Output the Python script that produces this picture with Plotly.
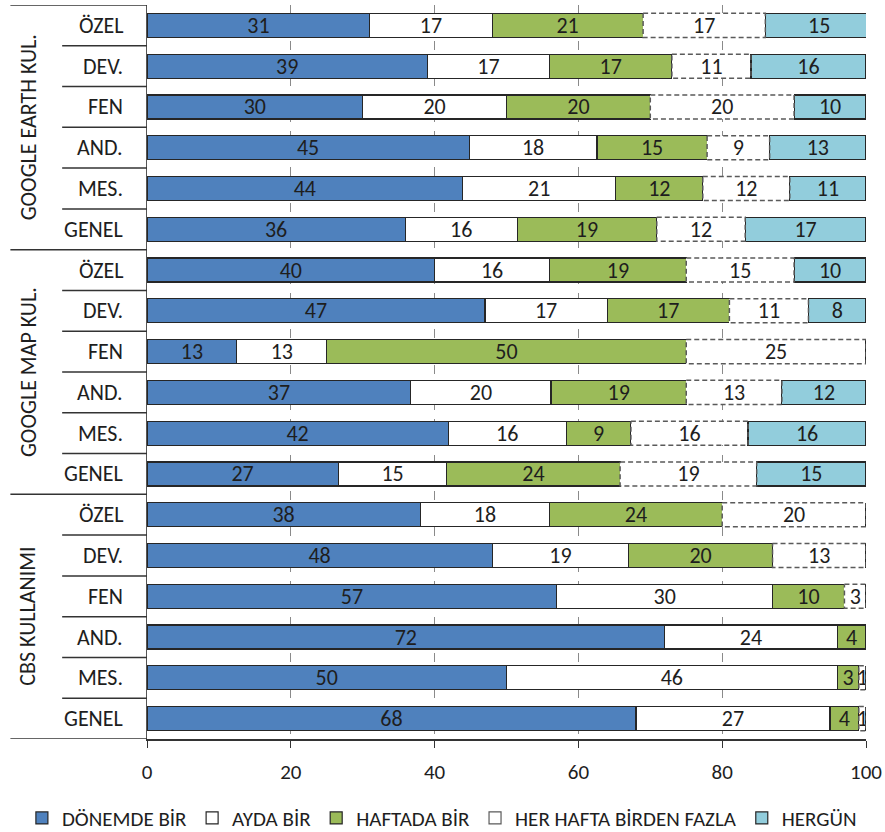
import plotly.graph_objects as go

groups = ["GOOGLE EARTH KUL.", "GOOGLE MAP KUL.", "CBS KULLANIMI"]
subs = ["ÖZEL", "DEV.", "FEN", "AND.", "MES.", "GENEL"]
series_names = ["DÖNEMDE BİR", "AYDA BİR", "HAFTADA BİR", "HER HAFTA BİRDEN FAZLA", "HERGÜN"]

donemde_bir = [31, 39, 30, 44.8, 43.9, 35.9, 40, 47, 12.5, 36.7, 41.9, 26.6, 38, 48, 57, 72, 50, 68]
ayda_bir = [17, 17, 20, 17.8, 21.3, 15.6, 16, 17, 12.5, 19.5, 16.4, 15.1, 18, 19, 30, 24, 46, 27]
haftada_bir = [21, 17, 20, 15.3, 12.1, 19.4, 19, 17, 50, 18.8, 9.0, 24.1, 24, 20, 10, 4, 3, 4]
her_hafta = [17, 11, 20, 8.7, 12.1, 12.3, 15, 11, 25, 13.3, 16.3, 19.0, 20, 13, 3, 0, 1, 1]
hergun = [15, 16, 10, 13.4, 10.6, 16.8, 10, 8, 0, 11.7, 16.4, 15.2, 0, 0, 0, 0, 0, 0]

x_ticks = [0, 20, 40, 60, 80, 100]

FONT = "Carlito, 'Open Sans', sans-serif"
TXT = "#1e1e1e"
n_rows = len(groups) * len(subs)
rows = list(range(n_rows))
half = 0.295


def labels(vals):
    return [str(int(v + 0.5)) if v > 0 else "" for v in vals]


fig = go.Figure()
series = [donemde_bir, ayda_bir, haftada_bir, her_hafta, hergun]
fills = ["#4F81BD", "#FFFFFF", "#9BBB59", "#FFFFFF", "#92CDDC"]
for k, (name, vals, col) in enumerate(zip(series_names, series, fills)):
    dashed = (k == 3)
    fig.add_trace(go.Bar(
        x=vals, y=rows, orientation="h", name=name,
        marker=dict(color=col, line=dict(color="#262626", width=0 if dashed else 1.2)),
        text=labels(vals), textposition="inside", insidetextanchor="middle",
        textangle=0, constraintext="none",
        textfont=dict(family=FONT, size=22, color=TXT),
        showlegend=not dashed, legendrank=k + 1, hoverinfo="skip",
    ))

# dashed outlines for HER HAFTA BİRDEN FAZLA, derived from cumulative values
xs, ys = [], []
for i in rows:
    left = donemde_bir[i] + ayda_bir[i] + haftada_bir[i]
    right = left + her_hafta[i]
    if her_hafta[i] <= 0:
        continue
    xs += [left, right, right, left, left, None]
    ys += [i - half, i - half, i + half, i + half, i - half, None]
fig.add_trace(go.Scatter(x=xs, y=ys, mode="lines",
                         line=dict(color="#5a5a5a", width=1.5, dash="5px,3px"),
                         showlegend=False, hoverinfo="skip"))
# legend entry for the dashed series
fig.add_trace(go.Bar(x=[None], y=[None], orientation="h", name=series_names[3],
                     marker=dict(color="#FFFFFF", line=dict(color="#5a5a5a", width=1.2)),
                     legendrank=4, showlegend=True))

annotations = []
shapes = []
for g, gname in enumerate(groups):
    annotations.append(dict(xref="paper", yref="y", x=-0.1655, y=g * 6 + 2.5,
                            text=gname, textangle=-90, showarrow=False,
                            xanchor="center", yanchor="middle",
                            font=dict(family=FONT, size=22, color=TXT)))
    for j, s in enumerate(subs):
        annotations.append(dict(xref="paper", yref="y", x=-0.031, y=g * 6 + j,
                                text=s, showarrow=False, xanchor="right", yanchor="middle",
                                font=dict(family=FONT, size=22, color=TXT)))
for b in range(n_rows + 1):
    yb = b - 0.5
    x0 = -0.19 if b % 6 == 0 else -0.118
    shapes.append(dict(type="line", xref="paper", yref="y", x0=x0, x1=0, y0=yb, y1=yb,
                       line=dict(color="#333333", width=1.5)))

fig.update_layout(
    width=885, height=832,
    margin=dict(l=147, r=19, t=5, b=93, autoexpand=False),
    paper_bgcolor="white", plot_bgcolor="white",
    barmode="stack", bargap=0.41,
    font=dict(family=FONT, size=21, color=TXT),
    annotations=annotations, shapes=shapes,
    legend=dict(orientation="h", x=-0.174, xanchor="left", y=-0.108, yanchor="middle",
                font=dict(family=FONT, size=21, color=TXT), traceorder="normal",
                itemwidth=30),
)
fig.update_xaxes(range=[0, 100], tickvals=x_ticks, showgrid=True, gridcolor="#8a8a8a",
                 griddash="dash", gridwidth=1, zeroline=False, showline=True,
                 linecolor="#333333", linewidth=1.5, ticks="outside", ticklen=7,
                 tickcolor="#333333", ticklabelstandoff=6,
                 tickfont=dict(family=FONT, size=21, color=TXT))
fig.update_yaxes(range=[n_rows - 0.5, -0.5], showticklabels=False, showgrid=False,
                 zeroline=False, showline=True, linecolor="#555555", linewidth=1.2,
                 ticks="")

fig.write_html("out.html", config={"displayModeBar": False},
               post_script="document.body.style.margin='0';document.body.style.overflow='hidden';")
